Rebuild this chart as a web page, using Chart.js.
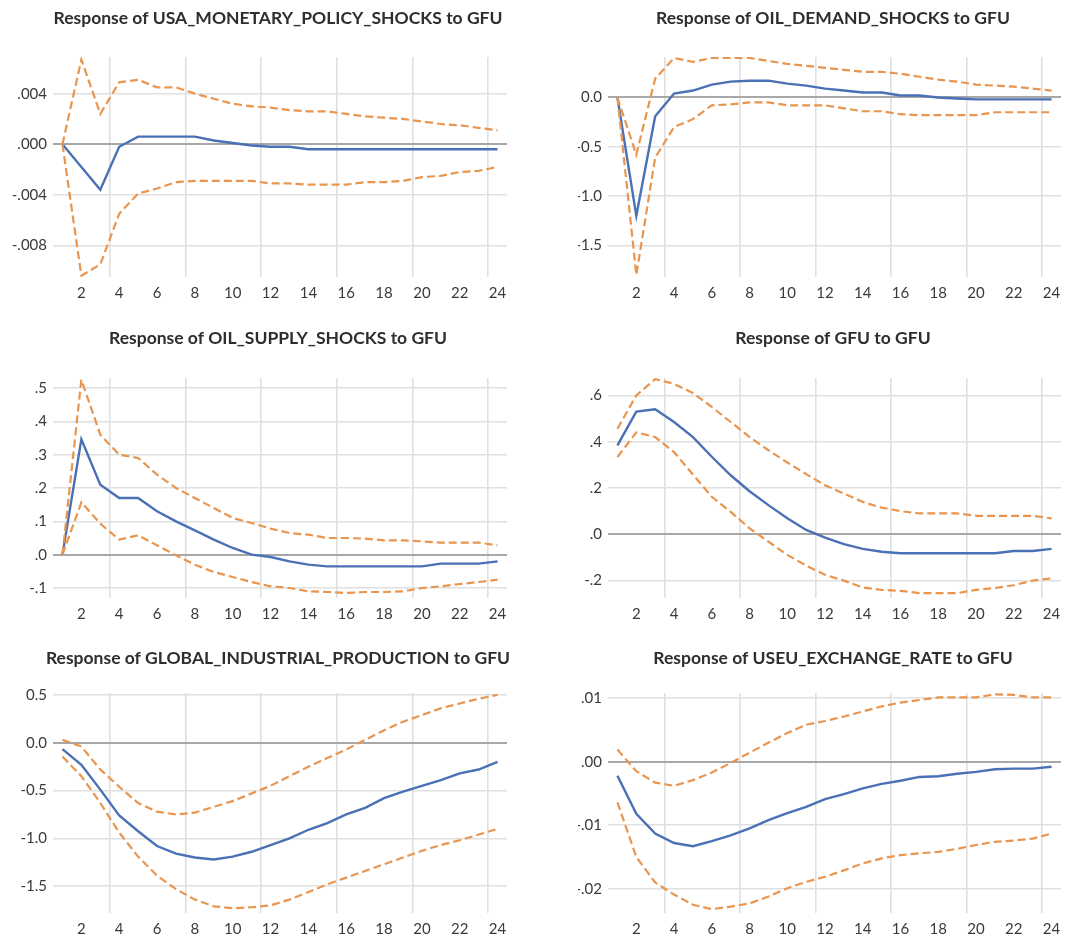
<!DOCTYPE html>
<html>
<head>
<meta charset="utf-8">
<script src="https://cdn.jsdelivr.net/npm/chart.js@4.4.1/dist/chart.umd.min.js"></script>
<style>
  html, body { margin: 0; padding: 0; background: #fff; }
  #page { position: relative; width: 1088px; height: 943px; }
  .panel { position: absolute; }
</style>
</head>
<body>
<div id="page">
  <canvas class="panel" id="p1" width="544" height="310" style="left:0;top:0"></canvas>
  <canvas class="panel" id="p2" width="544" height="310" style="left:544px;top:0"></canvas>
  <canvas class="panel" id="p3" width="544" height="320" style="left:0;top:310px"></canvas>
  <canvas class="panel" id="p4" width="544" height="320" style="left:544px;top:310px"></canvas>
  <canvas class="panel" id="p5" width="544" height="313" style="left:0;top:630px"></canvas>
  <canvas class="panel" id="p6" width="544" height="313" style="left:544px;top:630px"></canvas>
</div>
<script>
// periods after the shock
var periods = [1,2,3,4,5,6,7,8,9,10,11,12,13,14,15,16,17,18,19,20,21,22,23,24];
var xTicks = [2,4,6,8,10,12,14,16,18,20,22,24];
var xGrid = [3.5,7.5,11.5,15.5,19.5,23.5];

var titles = [
  'Response of USA_MONETARY_POLICY_SHOCKS to GFU',
  'Response of OIL_DEMAND_SHOCKS to GFU',
  'Response of OIL_SUPPLY_SHOCKS to GFU',
  'Response of GFU to GFU',
  'Response of GLOBAL_INDUSTRIAL_PRODUCTION to GFU',
  'Response of USEU_EXCHANGE_RATE to GFU'
];

// USA monetary policy shocks
var usaResp  = [0,-0.0018,-0.0036,-0.0002,0.0006,0.0006,0.0006,0.0006,0.0003,0.0001,-0.0001,-0.0002,-0.0002,-0.0004,-0.0004,-0.0004,-0.0004,-0.0004,-0.0004,-0.0004,-0.0004,-0.0004,-0.0004,-0.0004];
var usaUpper = [0,0.0067,0.0024,0.0049,0.0051,0.0045,0.0045,0.0040,0.0036,0.0032,0.0030,0.0029,0.0027,0.0026,0.0026,0.0024,0.0022,0.0021,0.0020,0.0018,0.0016,0.0015,0.0013,0.0011];
var usaLower = [0,-0.0104,-0.0095,-0.0055,-0.0039,-0.0035,-0.0030,-0.0029,-0.0029,-0.0029,-0.0029,-0.0031,-0.0031,-0.0032,-0.0032,-0.0032,-0.0030,-0.0030,-0.0029,-0.0026,-0.0025,-0.0022,-0.0021,-0.0018];
var usaTicks = [0.004,0,-0.004,-0.008];
var usaLabels = ['.004','.000','-.004','-.008'];

// oil demand shocks
var demResp  = [0,-1.20,-0.19,0.04,0.07,0.13,0.16,0.17,0.17,0.14,0.12,0.09,0.07,0.05,0.05,0.02,0.02,0.0,-0.01,-0.02,-0.02,-0.02,-0.02,-0.02];
var demUpper = [0,-0.58,0.19,0.40,0.36,0.40,0.40,0.40,0.37,0.34,0.32,0.30,0.28,0.26,0.26,0.24,0.21,0.18,0.16,0.13,0.12,0.11,0.09,0.07];
var demLower = [0,-1.80,-0.61,-0.30,-0.22,-0.08,-0.07,-0.05,-0.05,-0.08,-0.08,-0.08,-0.11,-0.14,-0.14,-0.17,-0.18,-0.18,-0.18,-0.18,-0.15,-0.15,-0.15,-0.15];
var demTicks = [0,-0.5,-1.0,-1.5];
var demLabels = ['0.0','-0.5','-1.0','-1.5'];

// oil supply shocks
var supResp  = [0,0.346,0.21,0.17,0.17,0.13,0.10,0.073,0.045,0.02,0.0,-0.007,-0.02,-0.03,-0.035,-0.035,-0.035,-0.035,-0.035,-0.035,-0.027,-0.027,-0.027,-0.02];
var supUpper = [0,0.525,0.36,0.30,0.29,0.24,0.20,0.17,0.14,0.11,0.095,0.078,0.065,0.06,0.05,0.05,0.048,0.043,0.043,0.04,0.036,0.036,0.036,0.028];
var supLower = [0,0.157,0.093,0.045,0.058,0.028,-0.002,-0.03,-0.052,-0.067,-0.082,-0.095,-0.10,-0.11,-0.112,-0.115,-0.112,-0.112,-0.11,-0.10,-0.095,-0.088,-0.082,-0.075];
var supTicks = [0.5,0.4,0.3,0.2,0.1,0,-0.1];
var supLabels = ['.5','.4','.3','.2','.1','.0','-.1'];

// GFU to GFU
var gfuResp  = [0.384,0.53,0.54,0.485,0.42,0.335,0.255,0.186,0.126,0.069,0.019,-0.014,-0.042,-0.063,-0.075,-0.082,-0.082,-0.082,-0.082,-0.082,-0.082,-0.072,-0.072,-0.063];
var gfuUpper = [0.456,0.60,0.67,0.65,0.61,0.55,0.485,0.42,0.363,0.31,0.26,0.212,0.176,0.14,0.115,0.10,0.09,0.09,0.09,0.08,0.08,0.08,0.08,0.069];
var gfuLower = [0.334,0.44,0.42,0.355,0.258,0.162,0.097,0.026,-0.032,-0.089,-0.135,-0.175,-0.20,-0.23,-0.24,-0.244,-0.254,-0.254,-0.254,-0.24,-0.232,-0.22,-0.20,-0.19];
var gfuTicks = [0.6,0.4,0.2,0,-0.2];
var gfuLabels = ['.6','.4','.2','.0','-.2'];

// global industrial production
var gipResp  = [-0.066,-0.23,-0.49,-0.76,-0.925,-1.08,-1.16,-1.20,-1.22,-1.19,-1.14,-1.07,-1.0,-0.91,-0.84,-0.75,-0.68,-0.58,-0.51,-0.45,-0.39,-0.32,-0.28,-0.20];
var gipUpper = [0.03,-0.04,-0.28,-0.46,-0.63,-0.72,-0.75,-0.73,-0.67,-0.61,-0.53,-0.45,-0.35,-0.25,-0.16,-0.07,0.03,0.13,0.22,0.29,0.36,0.41,0.46,0.50];
var gipLower = [-0.145,-0.35,-0.63,-0.94,-1.19,-1.39,-1.53,-1.64,-1.71,-1.73,-1.72,-1.70,-1.64,-1.56,-1.48,-1.41,-1.34,-1.27,-1.20,-1.13,-1.07,-1.02,-0.96,-0.90];
var gipTicks = [0.5,0,-0.5,-1.0,-1.5];
var gipLabels = ['0.5','0.0','-0.5','-1.0','-1.5'];

// US/EU exchange rate
var fxResp  = [-0.0022,-0.0082,-0.0113,-0.0128,-0.0133,-0.0125,-0.0116,-0.0105,-0.0092,-0.0081,-0.0071,-0.0059,-0.0051,-0.0042,-0.0035,-0.0030,-0.0024,-0.0023,-0.0019,-0.0016,-0.0012,-0.0011,-0.0011,-0.0008];
var fxUpper = [0.0019,-0.0015,-0.0033,-0.0038,-0.0029,-0.0017,-0.0002,0.0014,0.0030,0.0045,0.0058,0.0064,0.0071,0.0079,0.0087,0.0093,0.0097,0.0101,0.0101,0.0101,0.0106,0.0105,0.0101,0.0101];
var fxLower = [-0.0064,-0.0150,-0.0190,-0.0209,-0.0225,-0.0232,-0.0228,-0.0223,-0.0212,-0.0199,-0.0189,-0.0181,-0.0171,-0.0160,-0.0152,-0.0147,-0.0144,-0.0142,-0.0137,-0.0131,-0.0126,-0.0124,-0.0121,-0.0113];
var fxTicks = [0.01,0,-0.01,-0.02];
var fxLabels = ['.01','.00','-.01','-.02'];

var BLUE = '#4a70b5';
var ORANGE = '#e8954f';
var GRID = '#e0e0e0';
var ZERO = '#a8a8a8';

function pts(arr) {
  return periods.map(function (p, i) { return {x: p, y: arr[i]}; });
}

function makePanel(id, title, resp, upper, lower, ticks, labels, geo) {
  var band = function (arr) {
    return {data: pts(arr), borderColor: ORANGE, borderWidth: 2.2, borderDash: [8, 4],
            pointRadius: 0, tension: 0, fill: false};
  };
  new Chart(document.getElementById(id), {
    type: 'line',
    data: {
      datasets: [
        band(lower),
        band(upper),
        {data: pts(resp), borderColor: BLUE, borderWidth: 2.4, pointRadius: 0, tension: 0, fill: false}
      ]
    },
    options: {
      responsive: false,
      animation: false,
      // left padding shifts the centred title; the y axis width is reduced to match
      layout: {padding: {left: geo.shift, right: 0, top: 0, bottom: 0}},
      plugins: {
        legend: {display: false},
        tooltip: {enabled: false},
        title: {
          display: true,
          text: title,
          color: '#2e2e2e',
          font: {family: 'Lato', size: 17.5, weight: 'bold', lineHeight: 1.2},
          padding: {top: geo.titleTop, bottom: geo.titleBottom}
        }
      },
      scales: {
        xg: {
          type: 'linear', position: 'top', min: 0.5, max: 24.5,
          afterBuildTicks: function (s) { s.ticks = xGrid.map(function (v) { return {value: v}; }); },
          afterFit: function (s) { s.height = 0; },
          ticks: {display: false},
          grid: {color: GRID, lineWidth: 1.6, drawTicks: false},
          border: {display: false}
        },
        x: {
          type: 'linear', position: 'bottom', min: 0.5, max: 24.5,
          afterBuildTicks: function (s) { s.ticks = xTicks.map(function (v) { return {value: v}; }); },
          afterFit: function (s) { s.height = geo.xh; },
          ticks: {autoSkip: false, maxRotation: 0, padding: 7, color: '#3a3a3a',
                  font: {family: 'Lato', size: 15}},
          grid: {display: false, drawTicks: false},
          border: {display: false}
        },
        y: {
          min: geo.min, max: geo.max,
          afterBuildTicks: function (s) { s.ticks = ticks.map(function (v) { return {value: v}; }); },
          afterFit: function (s) { s.width = geo.yw - geo.shift; },
          ticks: {
            padding: 6, color: '#3a3a3a', font: {family: 'Lato', size: 15},
            callback: function (v) { return labels[ticks.indexOf(v)]; }
          },
          grid: {
            drawTicks: false,
            color: function (c) { return c.tick && c.tick.value === 0 ? ZERO : GRID; },
            lineWidth: function (c) { return c.tick && c.tick.value === 0 ? 2 : 1.6; }
          },
          border: {display: false}
        },
        yr: {
          position: 'right', min: geo.min, max: geo.max,
          afterFit: function (s) { s.width = geo.right; },
          ticks: {display: false},
          grid: {display: false},
          border: {display: false}
        }
      }
    }
  });
}

makePanel('p1', titles[0], usaResp, usaUpper, usaLower, usaTicks, usaLabels,
  {yw: 53, shift: 12, right: 37, titleTop: 7.5, titleBottom: 28.5, xh: 33, min: -0.0105, max: 0.0069});
makePanel('p2', titles[1], demResp, demUpper, demLower, demTicks, demLabels,
  {yw: 64, shift: 34, right: 27, titleTop: 7.5, titleBottom: 28.5, xh: 33, min: -1.82, max: 0.41});
makePanel('p3', titles[2], supResp, supUpper, supLower, supTicks, supLabels,
  {yw: 53, shift: 12, right: 37, titleTop: 17.5, titleBottom: 29.5, xh: 32, min: -0.13, max: 0.53});
makePanel('p4', titles[3], gfuResp, gfuUpper, gfuLower, gfuTicks, gfuLabels,
  {yw: 64, shift: 34, right: 27, titleTop: 17.5, titleBottom: 29.5, xh: 32, min: -0.275, max: 0.675});
makePanel('p5', titles[4], gipResp, gipUpper, gipLower, gipTicks, gipLabels,
  {yw: 53, shift: 12, right: 37, titleTop: 17.5, titleBottom: 24.5, xh: 30, min: -1.78, max: 0.52});
makePanel('p6', titles[5], fxResp, fxUpper, fxLower, fxTicks, fxLabels,
  {yw: 64, shift: 34, right: 27, titleTop: 17.5, titleBottom: 24.5, xh: 30, min: -0.0238, max: 0.0108});
</script>
</body>
</html>
